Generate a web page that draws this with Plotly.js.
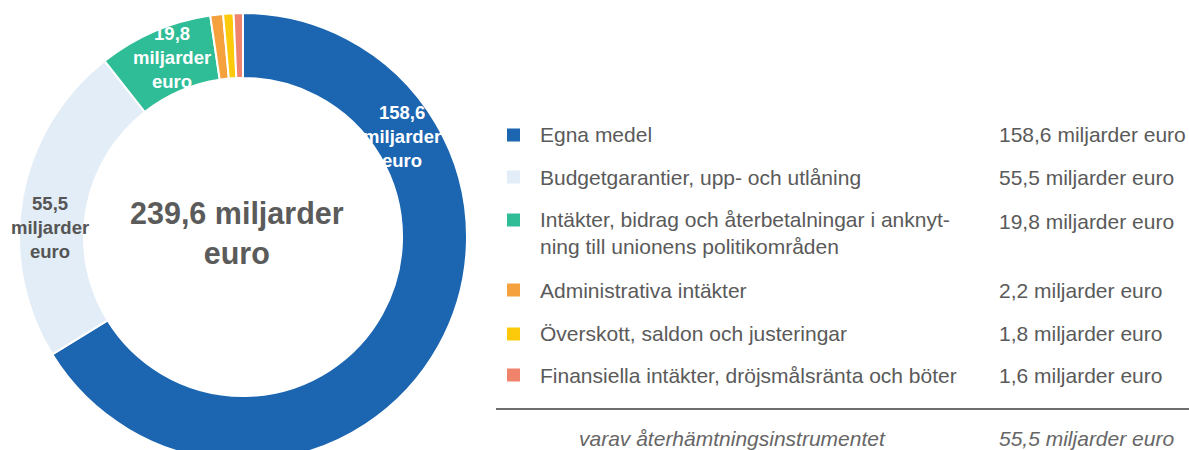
<!DOCTYPE html>
<html>
<head>
<meta charset="utf-8">
<script src="https://cdn.plot.ly/plotly-3.0.1.min.js"></script>
<style>
  html, body { margin: 0; padding: 0; background: #ffffff; overflow: hidden; width: 1189px; height: 450px; }
  #chart { width: 1189px; height: 475px; }
</style>
</head>
<body>
<div id="chart"></div>
<script>
// ---- data ----
const categories = [
  'Egna medel',
  'Budgetgarantier, upp- och utlåning',
  'Intäkter, bidrag och återbetalningar i anknyt-<br>ning till unionens politikområden',
  'Administrativa intäkter',
  'Överskott, saldon och justeringar',
  'Finansiella intäkter, dröjsmålsränta och böter'
];
const values = [158.6, 55.5, 19.8, 2.2, 1.8, 1.6];
const totalValue = 239.6;
const unitLabel = 'miljarder euro';
const recoveryLabel = 'varav återhämtningsinstrumentet';
const recoveryValue = 55.5;

// ---- styles ----
const sliceColors = ['#1b65b1', '#e3edf7', '#2ebd96', '#f4a13e', '#fdca0b', '#f0836b'];
const W = 1189, H = 475;
const X = p => p / W;
const Y = p => 1 - p / H;
const fmt = v => v.toFixed(1).replace('.', ',');
const FONT = '"Liberation Sans", Arial, Helvetica, sans-serif';

const trace = {
  type: 'pie',
  values: values,
  labels: categories.map(c => c.replace('<br>', '')),
  sort: false,
  direction: 'clockwise',
  rotation: 0,
  hole: 0.71,
  textinfo: 'none',
  hoverinfo: 'none',
  showlegend: false,
  marker: { colors: sliceColors, line: { color: '#ffffff', width: 2 } },
  domain: { x: [X(19), X(467)], y: [Y(461), Y(13)] }
};

const annotations = [];
const shapes = [];

// centre total
annotations.push({
  xref: 'paper', yref: 'paper', x: X(237), y: Y(233),
  xanchor: 'center', yanchor: 'middle', showarrow: false,
  text: fmt(totalValue) + ' miljarder<br>euro',
  font: { family: FONT, size: 30.5, color: '#5b5b5b', weight: 700 }
});

// slice labels (first three slices)
const sliceLabelPos = [[402, 137], [50, 227], [172, 58]];
const sliceLabelColor = ['#ffffff', '#555555', '#ffffff'];
sliceLabelPos.forEach((p, i) => {
  annotations.push({
    xref: 'paper', yref: 'paper', x: X(p[0]), y: Y(p[1]),
    xanchor: 'center', yanchor: 'middle', showarrow: false,
    text: fmt(values[i]) + '<br>miljarder<br>euro',
    font: { family: FONT, size: 18.5, color: sliceLabelColor[i], weight: 700 }
  });
});

// legend rows
const rowY = [134, 177, 233, 290, 333, 375];
const squareY = [135, 177, 220, 290, 334, 375];
const valueY = [134, 177, 221, 290, 333, 375];
categories.forEach((c, i) => {
  shapes.push({
    type: 'rect', xref: 'paper', yref: 'paper',
    x0: X(507), x1: X(520), y0: Y(squareY[i] + 6.5), y1: Y(squareY[i] - 6.5),
    fillcolor: sliceColors[i], line: { width: 0 }
  });
  annotations.push({
    xref: 'paper', yref: 'paper', x: X(538), y: Y(rowY[i]),
    xanchor: 'left', yanchor: 'middle', align: 'left', showarrow: false,
    text: c,
    font: { family: FONT, size: 21, color: '#5a5a5a' }
  });
  annotations.push({
    xref: 'paper', yref: 'paper', x: X(997), y: Y(valueY[i]),
    xanchor: 'left', yanchor: 'middle', align: 'left', showarrow: false,
    text: fmt(values[i]) + ' ' + unitLabel,
    font: { family: FONT, size: 21, color: '#5a5a5a' }
  });
});

// separator line
shapes.push({
  type: 'line', xref: 'paper', yref: 'paper',
  x0: X(496), x1: X(1189), y0: Y(409), y1: Y(409),
  line: { color: '#6e6e6e', width: 2 }
});

// recovery instrument row
annotations.push({
  xref: 'paper', yref: 'paper', x: X(577), y: Y(438),
  xanchor: 'left', yanchor: 'middle', showarrow: false,
  text: '<i>' + recoveryLabel + '</i>',
  font: { family: FONT, size: 21, color: '#666666' }
});
annotations.push({
  xref: 'paper', yref: 'paper', x: X(997), y: Y(438),
  xanchor: 'left', yanchor: 'middle', showarrow: false,
  text: '<i>' + fmt(recoveryValue) + ' ' + unitLabel + '</i>',
  font: { family: FONT, size: 21, color: '#666666' }
});

const layout = {
  width: W, height: H,
  margin: { l: 0, r: 0, t: 0, b: 0 },
  paper_bgcolor: '#ffffff',
  plot_bgcolor: '#ffffff',
  showlegend: false,
  annotations: annotations,
  shapes: shapes
};

Plotly.newPlot('chart', [trace], layout, { displayModeBar: false, staticPlot: true });
</script>
</body>
</html>
